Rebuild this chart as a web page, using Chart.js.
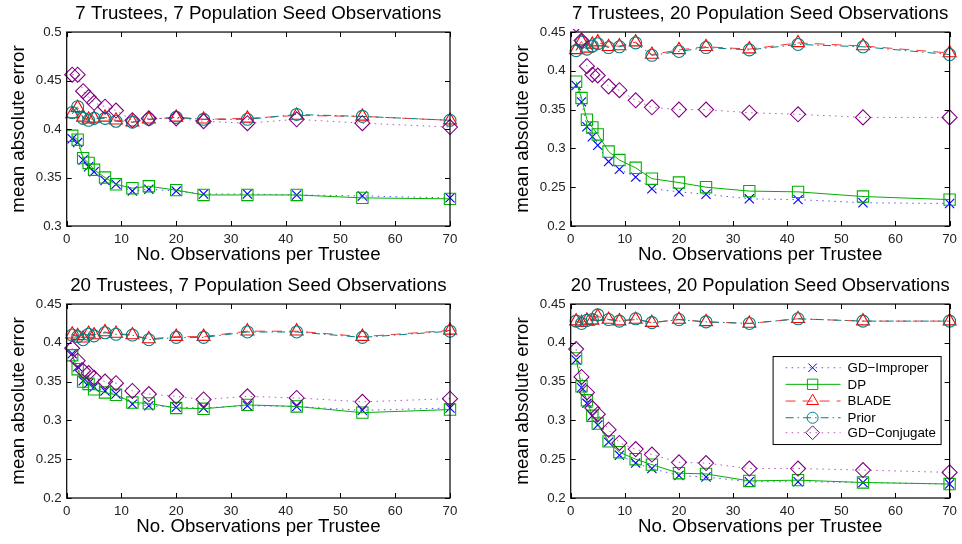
<!DOCTYPE html>
<html><head><meta charset="utf-8">
<script src="https://cdn.jsdelivr.net/npm/chart.js@4/dist/chart.umd.min.js"></script>
<style>
html,body{margin:0;padding:0;background:#fff;}
#wrap{position:relative;width:962px;height:544px;overflow:hidden;}
canvas{position:absolute;}
</style></head><body>
<div id="wrap">
<canvas id="c0" width="481" height="272" style="left:0;top:0"></canvas>
<canvas id="c1" width="481" height="272" style="left:481px;top:0"></canvas>
<canvas id="c2" width="481" height="272" style="left:0;top:272px"></canvas>
<canvas id="c3" width="481" height="272" style="left:481px;top:272px"></canvas>
</div>
<script>
// ---------- data ----------
const xObs = [1,2,3,4,5,7,9,12,15,20,25,33,42,54,70];
const xTicks = [0,10,20,30,40,50,60,70];
const yTicksA = [0.3,0.35,0.4,0.45,0.5];
const yTicksB = [0.2,0.25,0.3,0.35,0.4,0.45];
const seriesNames = ['GD\u2212Improper','DP','BLADE','Prior','GD\u2212Conjugate'];
const panelTitles = ['7 Trustees, 7 Population Seed Observations','7 Trustees, 20 Population Seed Observations',
  '20 Trustees, 7 Population Seed Observations','20 Trustees, 20 Population Seed Observations'];
const xTitle = 'No. Observations per Trustee';
const yTitle = 'mean absolute error';

// panel 1: 7 trustees, 7 seed
const p1Improper = [0.390,0.386,0.368,0.361,0.356,0.347,0.343,0.336,0.338,0.336,0.333,0.333,0.332,0.331,0.329];
const p1DP       = [0.393,0.389,0.370,0.365,0.358,0.350,0.343,0.339,0.341,0.337,0.332,0.332,0.332,0.329,0.328];
const p1BLADE    = [0.4155,0.422,0.412,0.410,0.411,0.412,0.409,0.407,0.410,0.412,0.410,0.411,0.414,0.413,0.409];
const p1Prior    = [0.417,0.423,0.411,0.409,0.411,0.411,0.408,0.407,0.410,0.412,0.410,0.410,0.415,0.413,0.409];
const p1Conj     = [0.456,0.456,0.439,0.433,0.427,0.423,0.419,0.409,0.411,0.411,0.408,0.406,0.410,0.406,0.402];
// panel 2: 7 trustees, 20 seed
const p2Improper = [0.381,0.360,0.328,0.315,0.304,0.283,0.273,0.263,0.248,0.244,0.241,0.235,0.234,0.230,0.229];
const p2DP       = [0.386,0.365,0.337,0.327,0.318,0.296,0.285,0.275,0.261,0.256,0.250,0.245,0.244,0.238,0.234];
const p2BLADE    = [0.427,0.438,0.429,0.434,0.437,0.431,0.432,0.437,0.421,0.427,0.431,0.428,0.436,0.432,0.423];
const p2Prior    = [0.426,0.437,0.428,0.432,0.435,0.430,0.431,0.436,0.420,0.425,0.430,0.427,0.434,0.431,0.421];
const p2Conj     = [0.460,0.439,0.406,0.395,0.394,0.380,0.375,0.362,0.353,0.350,0.350,0.346,0.344,0.340,0.340];
// panel 3: 20 trustees, 7 seed
const p3Improper = [0.386,0.369,0.351,0.348,0.343,0.338,0.334,0.321,0.319,0.317,0.316,0.319,0.318,0.313,0.316];
const p3DP       = [0.384,0.366,0.350,0.347,0.340,0.336,0.333,0.323,0.322,0.316,0.315,0.320,0.318,0.310,0.314];
const p3BLADE    = [0.411,0.409,0.406,0.412,0.410,0.414,0.412,0.410,0.405,0.408,0.408,0.415,0.415,0.408,0.416];
const p3Prior    = [0.410,0.408,0.404,0.411,0.409,0.413,0.411,0.410,0.404,0.407,0.407,0.414,0.414,0.407,0.415];
const p3Conj     = [0.393,0.377,0.364,0.361,0.355,0.350,0.348,0.338,0.334,0.331,0.327,0.331,0.329,0.324,0.328];
// panel 4: 20 trustees, 20 seed
const p4Improper = [0.378,0.342,0.322,0.306,0.294,0.272,0.255,0.245,0.238,0.229,0.227,0.221,0.221,0.220,0.218];
const p4DP       = [0.380,0.344,0.326,0.306,0.296,0.273,0.259,0.250,0.243,0.232,0.231,0.222,0.223,0.220,0.218];
const p4BLADE    = [0.428,0.426,0.429,0.429,0.434,0.430,0.428,0.430,0.426,0.430,0.427,0.425,0.431,0.428,0.428];
const p4Prior    = [0.428,0.425,0.429,0.430,0.436,0.430,0.428,0.431,0.426,0.430,0.427,0.425,0.431,0.428,0.428];
const p4Conj     = [0.392,0.356,0.336,0.316,0.308,0.288,0.271,0.263,0.256,0.246,0.245,0.238,0.238,0.236,0.233];

// ---------- styles ----------
const FONT = '"Liberation Sans", Arial, Helvetica, sans-serif';
Chart.defaults.font.family = FONT;
const styles = [
  {color:'#0000ff', line:'rgba(60,60,255,0.85)', dash:[1.5,4.5], point:'crossRot', r:6.5},
  {color:'#00b000', line:'#00b000', dash:[], point:'rect', r:8},
  {color:'#ff0000', line:'#ff3030', dash:[10,7], point:'triangle', r:7.5},
  {color:'#008080', line:'#008080', dash:[8,4,1.5,4], point:'circle', r:6},
  {color:'#800080', line:'rgba(170,60,170,0.85)', dash:[1.5,4.5], point:'rectRot', r:7.5}
];

const framePlugin = {
  id: 'frame',
  afterDraw(chart, args, opts) {
    const {ctx, chartArea: a} = chart;
    const xs = chart.scales.x, ys = chart.scales.y;
    ctx.save();
    ctx.strokeStyle = '#000';
    ctx.lineWidth = 1.2;
    ctx.setLineDash([]);
    ctx.strokeRect(a.left, a.top, a.right - a.left, a.bottom - a.top);
    const L = 5;
    ctx.lineWidth = 1;
    ctx.beginPath();
    xs.ticks.forEach(t => {
      const p = Math.round(xs.getPixelForValue(t.value)) + 0.5;
      ctx.moveTo(p, a.bottom); ctx.lineTo(p, a.bottom - L);
      ctx.moveTo(p, a.top); ctx.lineTo(p, a.top + L);
    });
    ys.ticks.forEach(t => {
      const p = Math.round(ys.getPixelForValue(t.value)) + 0.5;
      ctx.moveTo(a.left, p); ctx.lineTo(a.left + L, p);
      ctx.moveTo(a.right, p); ctx.lineTo(a.right - L, p);
    });
    ctx.stroke();
    if (opts && opts.legend) {
      const w = 168, h = 88;
      const bx = a.right - 9 - w, by = a.top + 52;
      ctx.fillStyle = '#fff';
      ctx.fillRect(bx, by, w, h);
      ctx.lineWidth = 1;
      ctx.strokeStyle = '#000';
      ctx.strokeRect(bx + 0.5, by + 0.5, w, h);
      const rows = [11.7, 28.3, 45, 61.7, 76.7];
      seriesNames.forEach((name, i) => {
        const s = styles[i];
        const yy = by + rows[i];
        ctx.save();
        ctx.strokeStyle = s.line;
        ctx.lineWidth = 1;
        ctx.setLineDash(s.dash);
        ctx.beginPath();
        ctx.moveTo(bx + 13, yy); ctx.lineTo(bx + 68, yy);
        ctx.stroke();
        ctx.setLineDash([]);
        ctx.strokeStyle = s.color;
        ctx.fillStyle = 'rgba(0,0,0,0)';
        if (Chart.helpers && Chart.helpers.drawPoint) {
          Chart.helpers.drawPoint(ctx, {pointStyle: s.point, radius: s.r * 0.92, rotation: 0, borderWidth: 1}, bx + 40, yy);
        }
        ctx.restore();
        ctx.fillStyle = '#000';
        ctx.font = '13.3px ' + FONT;
        ctx.textBaseline = 'middle';
        ctx.textAlign = 'left';
        ctx.fillText(name, bx + 75, yy + 0.5);
      });
    }
    ctx.restore();
  }
};

function makeChart(id, title, series, yMin, yMax, yTicks, geom, legend) {
  const datasets = series.map((vals, i) => {
    const s = styles[i];
    return {
      label: seriesNames[i],
      data: xObs.map((x, k) => ({x: x, y: vals[k]})),
      showLine: true,
      borderColor: s.line,
      borderWidth: 1,
      borderDash: s.dash,
      backgroundColor: 'rgba(0,0,0,0)',
      pointStyle: s.point,
      pointRadius: s.r,
      pointBorderColor: s.color,
      pointBackgroundColor: 'rgba(0,0,0,0)',
      pointBorderWidth: 1.1,
      tension: 0,
      order: 4 - i,
      clip: {left: 14, right: 14, top: 3, bottom: 14}
    };
  });
  return new Chart(document.getElementById(id), {
    type: 'scatter',
    data: {datasets},
    options: {
      responsive: false,
      animation: false,
      devicePixelRatio: 1,
      layout: {padding: {left: 0, right: geom.padR, top: 0, bottom: 0}},
      plugins: {
        legend: {display: false},
        tooltip: {enabled: false},
        title: {display: true, text: title, fullSize: false, color: '#000',
          font: {size: 18.7, weight: 'normal', lineHeight: 1.2}, padding: {top: 3, bottom: 6.6}},
        frame: {legend: legend}
      },
      scales: {
        x: {
          type: 'linear', min: 0, max: 70,
          afterBuildTicks: s => { s.ticks = xTicks.map(v => ({value: v})); },
          afterFit: s => { s.height = 46; },
          grid: {display: false, drawTicks: false},
          border: {display: false},
          ticks: {color: '#222', font: {size: 13.3}, padding: 5, maxRotation: 0, autoSkip: false},
          title: {display: true, text: xTitle, color: '#000', font: {size: 18.7, lineHeight: 1.2}, padding: {top: 0, bottom: 6}}
        },
        y: {
          type: 'linear', min: yMin, max: yMax,
          afterBuildTicks: s => { s.ticks = yTicks.map(v => ({value: v})); },
          afterFit: s => { s.width = geom.yW; },
          grid: {display: false, drawTicks: false},
          border: {display: false},
          ticks: {color: '#222', font: {size: 13.3}, padding: 5, autoSkip: false,
            callback: v => String(+Number(v).toFixed(2))},
          title: {display: true, text: yTitle, color: '#000', font: {size: 18.7, lineHeight: 1.2}, padding: {top: geom.yTitlePad, bottom: 0}}
        }
      }
    },
    plugins: [framePlugin]
  });
}

const geomL = {yW: 66.7, yTitlePad: 7.5, padR: 31};
const geomR = {yW: 89.7, yTitlePad: 30.8, padR: 8};
makeChart('c0', panelTitles[0], [p1Improper,p1DP,p1BLADE,p1Prior,p1Conj], 0.3, 0.5, yTicksA, geomL, false);
makeChart('c1', panelTitles[1], [p2Improper,p2DP,p2BLADE,p2Prior,p2Conj], 0.2, 0.45, yTicksB, geomR, false);
makeChart('c2', panelTitles[2], [p3Improper,p3DP,p3BLADE,p3Prior,p3Conj], 0.2, 0.45, yTicksB, geomL, false);
makeChart('c3', panelTitles[3], [p4Improper,p4DP,p4BLADE,p4Prior,p4Conj], 0.2, 0.45, yTicksB, geomR, true);
</script>
</body></html>
